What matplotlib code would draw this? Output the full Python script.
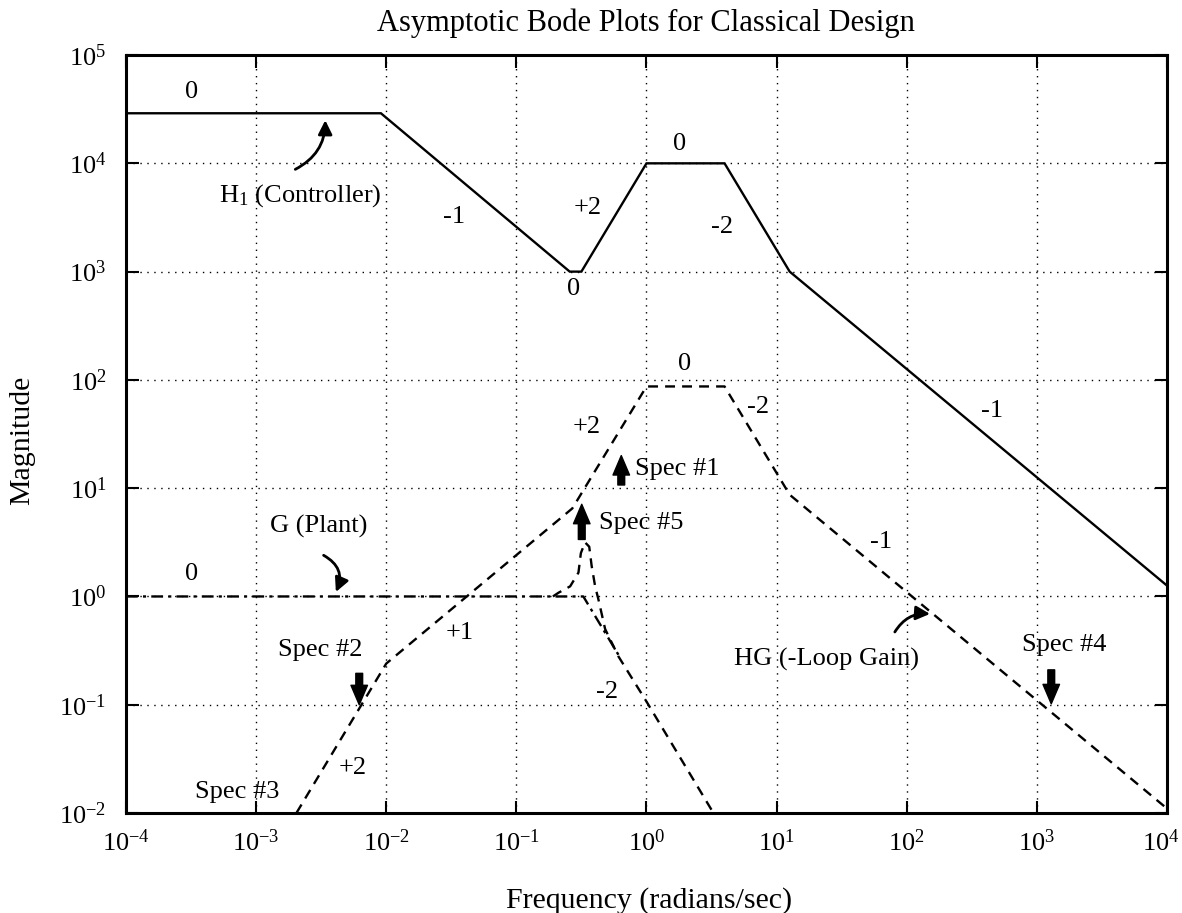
import matplotlib
matplotlib.use("Agg")
import matplotlib.pyplot as plt
from matplotlib.transforms import ScaledTranslation

plt.rcParams["font.family"] = ["Liberation Serif", "DejaVu Serif"]
plt.rcParams["mathtext.fontset"] = "custom"
plt.rcParams["mathtext.rm"] = "Liberation Serif"
plt.rcParams["mathtext.it"] = "Liberation Serif:italic"
plt.rcParams["mathtext.default"] = "regular"

# Controller H1 asymptote breakpoints
h1_freq = [1e-4, 0.0091, 0.257, 0.316, 1.0, 3.98, 12.6, 1e4]
h1_mag = [2.9e4, 2.9e4, 1.0e3, 1.0e3, 1.0e4, 1.0e4, 1.0e3, 1.26]

# Loop gain HG asymptote breakpoints
hg_freq = [0.00204, 0.01, 0.269, 1.0, 3.98, 12.6, 1e4]
hg_mag = [0.01, 0.24, 6.5, 87, 87, 8.7, 0.011]

# Plant G: asymptote and resonant response
g_asym_freq = [1e-4, 0.327, 0.63]
g_asym_mag = [1.0, 1.0, 0.27]
g_res_freq = [0.191, 0.210, 0.259, 0.300, 0.313, 0.337, 0.363, 0.379,
              0.403, 0.427, 0.481, 0.608, 1.0, 3.27]
g_res_mag = [1.0, 1.08, 1.24, 1.66, 2.51, 3.16, 2.88, 1.91,
             1.24, 0.94, 0.50, 0.28, 0.107, 0.01]

# Slope annotations: (text, freq, magnitude)
slope_labels = [
    ("0", 3.2e-4, 4.6e4), ("-1", 0.033, 3.2e3), ("0", 0.275, 690),
    ("+2", 0.355, 3.9e3), ("0", 1.8, 1.5e4), ("-2", 3.8, 2.6e3),
    ("-1", 450, 52),
    ("0", 3.2e-4, 1.6), ("+1", 0.037, 0.46), ("+2", 5.5e-3, 0.026),
    ("+2", 0.35, 37), ("0", 1.95, 140), ("-2", 7.2, 56), ("-1", 63, 3.2),
    ("-2", 0.5, 0.13),
]

# Specification arrows: (label, freq, tail magnitude, head magnitude)
spec_arrows = [
    ("Spec #1", 0.64, 10.7, 20.0),
    ("Spec #5", 0.318, 3.36, 7.1),
    ("Spec #2", 0.0062, 0.195, 0.10),
    ("Spec #4", 1290, 0.21, 0.102),
]
# Specification label positions: (label, freq, magnitude, alignment)
spec_texts = [
    ("Spec #1", 0.82, 15, "left"),
    ("Spec #5", 0.43, 4.8, "left"),
    ("Spec #2", 3.1e-3, 0.32, "center"),
    ("Spec #3", 7.2e-4, 0.0155, "center"),
    ("Spec #4", 1620, 0.36, "center"),
]

# Curve name labels with pointer arrows
curve_names = [
    (r"H$_{1}$ (Controller)", 2.2e-3, 5.0e3, (2.0e-3, 8.8e3), (3.4e-3, 2.5e4), 0.3),
    ("G (Plant)", 3.0e-3, 4.4, (3.3e-3, 2.4), (4.1e-3, 1.1), -0.45),
    ("HG (-Loop Gain)", 24, 0.26, (81, 0.47), (151, 0.69), -0.3),
]

decades = list(range(-4, 5))
mag_decades = list(range(-2, 6))

fig = plt.figure(figsize=(11.82, 9.13), dpi=100)
ax = fig.add_axes([0.1066, 0.1095, 0.8807, 0.8302])
ax.set_xscale("log")
ax.set_yscale("log")
ax.set_xlim(1e-4, 1e4)
ax.set_ylim(1e-2, 1e5)

dash = (0, (4.2, 3.0))
ax.plot(h1_freq, h1_mag, color="k", lw=1.7, solid_joinstyle="miter")
ax.plot(hg_freq, hg_mag, color="k", lw=1.7, linestyle=dash)
ax.plot(g_asym_freq, g_asym_mag, color="k", lw=1.7, linestyle=(0, (5, 2.2, 1.3, 2.2)))
ax.plot(g_res_freq, g_res_mag, color="k", lw=1.7, linestyle=dash)

ax.set_xticks([10.0 ** d for d in decades])
ax.set_xticklabels([r"$10^{%d}$" % d for d in decades])
ax.set_yticks([10.0 ** d for d in mag_decades])
ax.set_yticklabels([r"$10^{%d}$" % d for d in mag_decades])
ax.minorticks_off()
ax.tick_params(axis="both", which="major", direction="in", length=9, width=1.5,
               labelsize=19, top=True, right=True)
ax.tick_params(axis="x", pad=12)
ax.tick_params(axis="y", pad=14)
ax.grid(True, which="major", color="k", linestyle=(0, (1, 4)), linewidth=1.0)
for sp in ax.spines.values():
    sp.set_linewidth(2.2)

# keep the rightmost frequency label inside the canvas
last = ax.get_xticklabels()[-1]
last.set_transform(last.get_transform() + ScaledTranslation(-6 / 100, 0, fig.dpi_scale_trans))

for txt, f, m in slope_labels:
    ax.text(f, m, txt, ha="center", va="center", fontsize=19)

for label, f, tail, head in spec_arrows:
    ax.annotate("", xy=(f, head), xytext=(f, tail),
                arrowprops=dict(arrowstyle="simple,head_length=1.0,head_width=0.85,tail_width=0.35",
                                color="k", shrinkA=0, shrinkB=0, mutation_scale=14))

for txt, f, m, ha in spec_texts:
    ax.text(f, m, txt, ha=ha, va="center", fontsize=19)

for txt, f, m, tail, head, rad in curve_names:
    ax.text(f, m, txt, ha="center", va="center", fontsize=19)
    ax.annotate("", xy=head, xytext=tail,
                arrowprops=dict(arrowstyle="-|>,head_length=0.6,head_width=0.3",
                                connectionstyle="arc3,rad=%.2f" % rad,
                                color="k", lw=2.0, shrinkA=0, shrinkB=0,
                                mutation_scale=14))

fig.text(0.5465, 0.975, "Asymptotic Bode Plots for Classical Design",
         ha="center", va="center", fontsize=22)
fig.text(0.549, 0.0142, "Frequency (radians/sec)", ha="center", va="center", fontsize=21.5)
fig.text(0.0186, 0.518, "Magnitude", ha="center", va="center", rotation=90, fontsize=21.5)

fig.savefig("out.png", dpi=100)
